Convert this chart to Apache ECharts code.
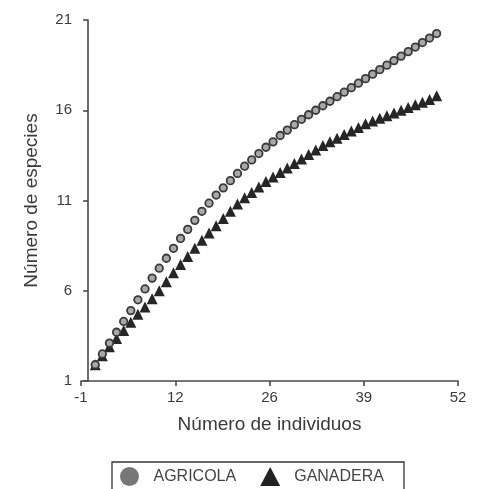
<!DOCTYPE html>
<html>
<head>
<meta charset="utf-8">
<script src="https://cdn.jsdelivr.net/npm/echarts@6/dist/echarts.min.js"></script>
<style>
  html, body { margin: 0; padding: 0; background: #ffffff; }
  #chart { width: 478px; height: 489px; }
</style>
</head>
<body>
<div id="chart"></div>
<script>
// Rarefaction curves: expected species count vs. number of individuals sampled
const individuos = [];
for (let n = 1; n <= 49; n++) individuos.push(n);

const agricola = [
  1.9, 2.5, 3.1, 3.7, 4.3, 4.9, 5.5, 6.1, 6.7, 7.25,
  7.8, 8.35, 8.9, 9.4, 9.9, 10.4, 10.85, 11.3, 11.7, 12.1,
  12.5, 12.9, 13.25, 13.6, 13.95, 14.25, 14.6, 14.9, 15.2, 15.5,
  15.75, 16.0, 16.25, 16.5, 16.75, 17.0, 17.25, 17.5, 17.75, 18.0,
  18.25, 18.5, 18.75, 19.0, 19.25, 19.5, 19.75, 20.0, 20.25
];

const ganadera = [
  1.9, 2.4, 2.9, 3.35, 3.8, 4.25, 4.7, 5.1, 5.55, 6.0,
  6.5, 7.0, 7.45, 7.9, 8.35, 8.8, 9.2, 9.6, 10.0, 10.4,
  10.8, 11.15, 11.45, 11.75, 12.05, 12.3, 12.55, 12.8, 13.05, 13.3,
  13.55, 13.8, 14.05, 14.25, 14.45, 14.65, 14.85, 15.05, 15.25, 15.4,
  15.55, 15.7, 15.85, 16.0, 16.15, 16.3, 16.45, 16.6, 16.8
];

// Axis tick positions (x ticks are evenly spaced over -1..52, labels rounded)
const xTicks = [-1, 12.25, 25.5, 38.75, 52];
const yTicks = [1, 6, 11, 16, 21];

const seriesNames = ['AGRICOLA', 'GANADERA'];

const pairs = (xs, ys) => xs.map((x, i) => [x, ys[i]]);

const font = 'Liberation Sans, Arial, sans-serif';
const axisColor = '#4a4a4a';
const textColor = '#3a3a3a';

const chart = echarts.init(document.getElementById('chart'), null, { renderer: 'canvas' });

chart.setOption({
  backgroundColor: '#ffffff',
  animation: false,
  grid: { left: 81, top: 20, right: 20, bottom: 108, containLabel: false },
  xAxis: {
    type: 'value',
    min: -1,
    max: 52,
    name: 'Número de individuos',
    nameLocation: 'middle',
    nameGap: 34,
    nameTextStyle: { fontFamily: font, fontSize: 19, color: textColor },
    axisLine: { show: true, lineStyle: { color: axisColor, width: 1.6 } },
    axisTick: { show: true, length: 5, lineStyle: { color: axisColor, width: 1.6 }, customValues: xTicks },
    axisLabel: {
      fontFamily: font, fontSize: 15, color: textColor, margin: 9,
      customValues: xTicks,
      formatter: v => String(Math.round(v))
    },
    splitLine: { show: false }
  },
  yAxis: {
    type: 'value',
    min: 1,
    max: 21,
    name: 'Número de especies',
    nameLocation: 'middle',
    nameGap: 40,
    nameRotate: 90,
    nameTextStyle: { fontFamily: font, fontSize: 19, color: textColor },
    axisLine: { show: true, lineStyle: { color: axisColor, width: 1.6 } },
    axisTick: { show: true, length: 5, lineStyle: { color: axisColor, width: 1.6 }, customValues: yTicks },
    axisLabel: {
      fontFamily: font, fontSize: 15, color: textColor, margin: 9,
      customValues: yTicks
    },
    splitLine: { show: false }
  },
  legend: {
    left: 112,
    top: 462,
    itemGap: 24,
    itemWidth: 20,
    itemHeight: 19,
    padding: [5, 20, 20, 8],
    borderColor: '#333',
    borderWidth: 1.3,
    textStyle: { fontFamily: font, fontSize: 16, color: '#444', padding: [0, 0, 0, 9] },
    data: [
      { name: seriesNames[0], icon: 'circle', itemStyle: { color: '#777', borderWidth: 0 } },
      { name: seriesNames[1], icon: 'triangle', itemStyle: { color: '#222', borderWidth: 0 } }
    ]
  },
  series: [
    {
      name: seriesNames[0],
      type: 'scatter',
      data: pairs(individuos, agricola),
      symbol: 'circle',
      symbolSize: 7.5,
      itemStyle: { color: '#a8a8a8', borderColor: '#3a3a3a', borderWidth: 1.8, opacity: 1 },
      z: 3
    },
    {
      name: seriesNames[1],
      type: 'scatter',
      data: pairs(individuos, ganadera),
      symbol: 'triangle',
      symbolSize: 11,
      itemStyle: { color: '#262626', opacity: 1 },
      z: 2
    }
  ]
});
</script>
</body>
</html>
